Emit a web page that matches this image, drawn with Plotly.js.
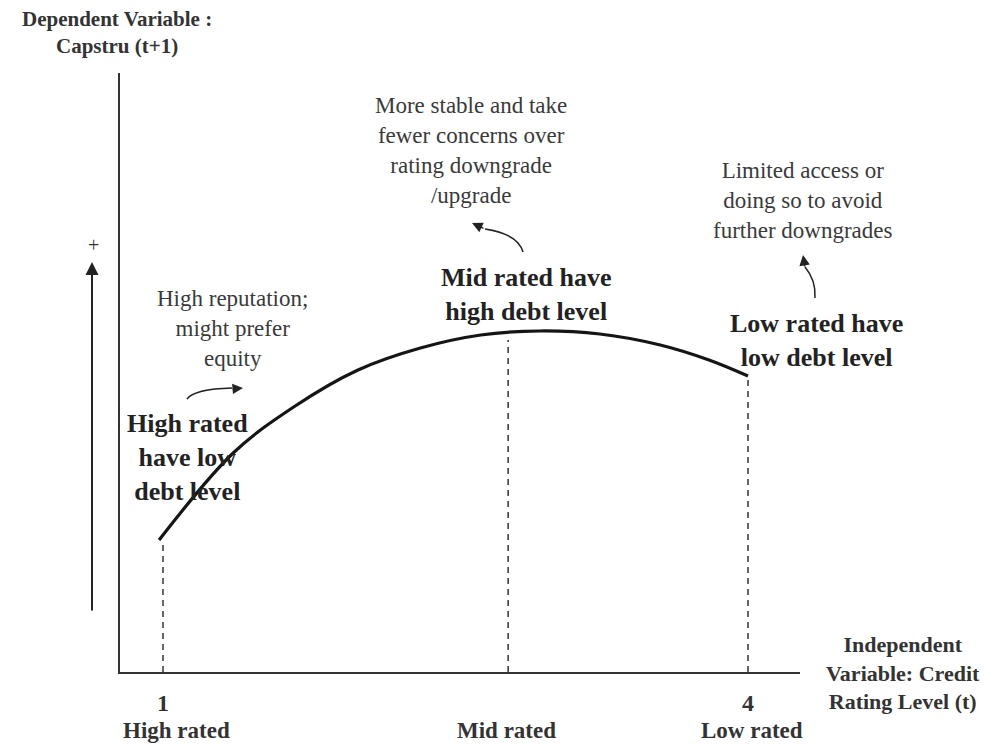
<!DOCTYPE html>
<html>
<head>
<meta charset="utf-8">
<script src="https://cdn.plot.ly/plotly-3.0.1.min.js"></script>
<style>html,body{margin:0;padding:0;background:#fff;}#chart{width:984px;height:745px;}</style>
</head>
<body>
<div id="chart"></div>
<script>
// ---- data ----
const curveX = [0.98, 1.36, 1.67, 2.0, 2.32, 2.63, 2.93, 3.24, 3.55, 3.8, 4.0];
const curveY = [1.32, 2.19, 2.65, 3.02, 3.24, 3.37, 3.41, 3.38, 3.27, 3.12, 2.96];
const dashX = [1.0, 2.77, 4.0];
const dashTop = [1.27, 3.32, 2.94];
const tickVals = [1, 4];
const tickText = ['1', '4'];
const levelLabels = ['High rated', 'Mid rated', 'Low rated'];
const levelX = [1.07, 2.76, 4.02];
const yTitle = 'Dependent Variable :<br>Capstru (t+1)';
const xTitle = 'Independent<br>Variable: Credit<br>Rating Level (t)';
const noteTexts = [
  'High reputation;<br>might prefer<br>equity',
  'More stable and take<br>fewer concerns over<br>rating downgrade<br>/upgrade',
  'Limited access or<br>doing so to avoid<br>further downgrades'
];
const boldTexts = [
  'High rated<br>have low<br>debt level',
  'Mid rated have<br>high debt level',
  'Low rated have<br>low debt level'
];

// ---- layout helpers (pixel -> paper) ----
const L = 120, R = 800, T = 73, B = 672;
const X = px => 1 + (px - 163) / 195;
const Y = py => (672 - py) / 100;
const PX = px => (px - L) / (R - L);
const PY = py => (B - py) / (B - T);

const FONT = 'Liberation Serif, Times New Roman, serif';
const dark = '#222';

const traces = [];
dashX.forEach((x, i) => {
  traces.push({x: [x, x], y: [0, dashTop[i]], mode: 'lines', type: 'scatter',
    line: {color: '#333', width: 1.5, dash: '6px,5px'}, hoverinfo: 'skip', showlegend: false, cliponaxis: false});
});
traces.push({x: curveX, y: curveY, mode: 'lines', type: 'scatter', cliponaxis: false,
  line: {color: '#151515', width: 3.2, shape: 'spline', smoothing: 1}, showlegend: false});

function txt(text, px, py, size, bold, color) {
  return {text: bold ? '<b>' + text + '</b>' : text, x: PX(px), y: PY(py), xref: 'paper', yref: 'paper',
    showarrow: false, xanchor: 'center', yanchor: 'middle', align: 'center',
    font: {family: FONT, size: size, color: color || dark}};
}
const annotations = [
  txt(yTitle, 117, 32, 21, true, '#333'),
  txt('+', 93, 245, 20, false, '#333'),
  txt(noteTexts[0], 232, 328, 23, false, '#3a3a3a'),
  txt(noteTexts[1], 471, 150, 23, false, '#3a3a3a'),
  txt(noteTexts[2], 803, 200, 23, false, '#3a3a3a'),
  txt(boldTexts[0], 187, 457, 26, true),
  txt(boldTexts[1], 526, 294, 26, true),
  txt(boldTexts[2], 816, 340, 26, true),
  txt(xTitle, 903, 673, 22, true, '#333'),
];
levelLabels.forEach((t, i) => {
  annotations.push(txt(t, 163 + (levelX[i] - 1) * 195, 730, 23, true, '#333'));
});
function arrowAt(px, py, ax, ay, size, width) {
  return {x: PX(px), y: PY(py), xref: 'paper', yref: 'paper', ax: ax, ay: ay,
    showarrow: true, arrowhead: 2, arrowsize: size, arrowwidth: width, arrowcolor: '#222', text: ''};
}
// left upward arrow
annotations.push(arrowAt(92, 262, 0, 350, 1.3, 2));
// arrowheads of the curved pointers
annotations.push(arrowAt(243, 388, -12, 1, 1.4, 1.5));
annotations.push(arrowAt(472, 223, 13, 6, 1.4, 1.5));
annotations.push(arrowAt(803, 255, 2, 13, 1.4, 1.5));

function qpath(a, c, b) {
  return 'M ' + PX(a[0]) + ',' + PY(a[1]) + ' Q ' + PX(c[0]) + ',' + PY(c[1]) + ' ' + PX(b[0]) + ',' + PY(b[1]);
}
const shapes = [
  {type: 'path', xref: 'paper', yref: 'paper', path: qpath([187, 399], [194, 389], [232, 388]), line: {color: '#222', width: 1.5}},
  {type: 'path', xref: 'paper', yref: 'paper', path: qpath([523, 252], [518, 234], [485, 229]), line: {color: '#222', width: 1.5}},
  {type: 'path', xref: 'paper', yref: 'paper', path: qpath([815, 298], [816, 280], [805, 267]), line: {color: '#222', width: 1.5}},
];

const layout = {
  width: 984, height: 745,
  margin: {l: L, r: 984 - R, t: T, b: 745 - B, pad: 0},
  paper_bgcolor: '#fff', plot_bgcolor: '#fff',
  showlegend: false,
  xaxis: {range: [X(L), X(R)], showgrid: false, zeroline: false, showline: true, linecolor: '#333', linewidth: 2,
    tickmode: 'array', tickvals: tickVals, ticktext: tickText, ticks: '', ticklabelstandoff: 8,
    tickfont: {family: FONT, size: 24, color: '#333', weight: 'bold'}, fixedrange: true},
  yaxis: {range: [Y(B), Y(T)], showgrid: false, zeroline: false, showline: true, linecolor: '#333', linewidth: 2,
    showticklabels: false, ticks: '', fixedrange: true},
  annotations: annotations,
  shapes: shapes
};
Plotly.newPlot('chart', traces, layout, {displayModeBar: false, staticPlot: true});
</script>
</body>
</html>
